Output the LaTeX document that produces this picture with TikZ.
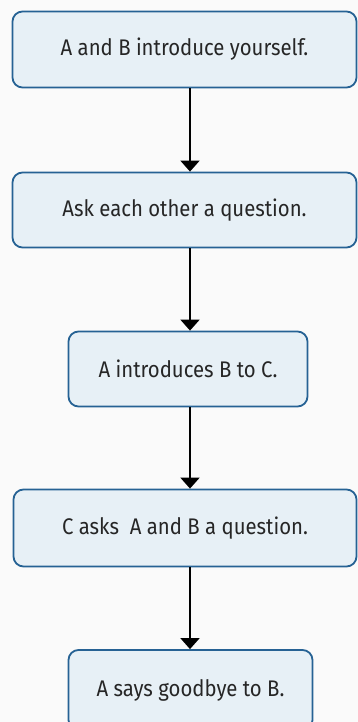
\documentclass[tikz,border=0pt]{standalone}
\usepackage{fontspec}
\setmainfont{Fira Sans}[FakeStretch=0.9]
\usetikzlibrary{arrows.meta}
\definecolor{boxfill}{RGB}{231,240,246}
\definecolor{boxline}{RGB}{38,98,148}
\definecolor{bgcol}{RGB}{250,250,250}
\begin{document}
\begin{tikzpicture}[x=1pt,y=-1pt,
  flowbox/.style={draw=boxline, line width=1.8pt, fill=boxfill, rounded corners=10pt,
    inner sep=0pt, align=center, font=\fontsize{22.6}{26}\selectfont, text=black!85},
  flowarrow/.style={line width=2pt, -{Triangle[width=19pt,length=11pt]}}]
\useasboundingbox (0,0) rectangle (358,722);
\fill[bgcol] (0,0) rectangle (358,722);
\node[flowbox, minimum width=344pt, minimum height=76pt] (b1) at (184.5,49.5) {A and B introduce yourself.};
\node[flowbox, minimum width=344pt, minimum height=75pt] (b2) at (184.5,210) {Ask each other a question.};
\node[flowbox, minimum width=239pt, minimum height=75pt] (b3) at (188,369) {A introduces B to C.};
\node[flowbox, minimum width=343pt, minimum height=77pt] (b4) at (185,528) {C asks\ \ A and B a question.};
\node[flowbox, minimum width=244pt, minimum height=80pt] (b5) at (190.5,690) {A says goodbye to B.};
\coordinate (colx) at (190,0);
\draw[flowarrow] (b1.south -| colx) -- (b2.north -| colx);
\draw[flowarrow] (b2.south -| colx) -- (b3.north -| colx);
\draw[flowarrow] (b3.south -| colx) -- (b4.north -| colx);
\draw[flowarrow] (b4.south -| colx) -- (b5.north -| colx);
\end{tikzpicture}
\end{document}
